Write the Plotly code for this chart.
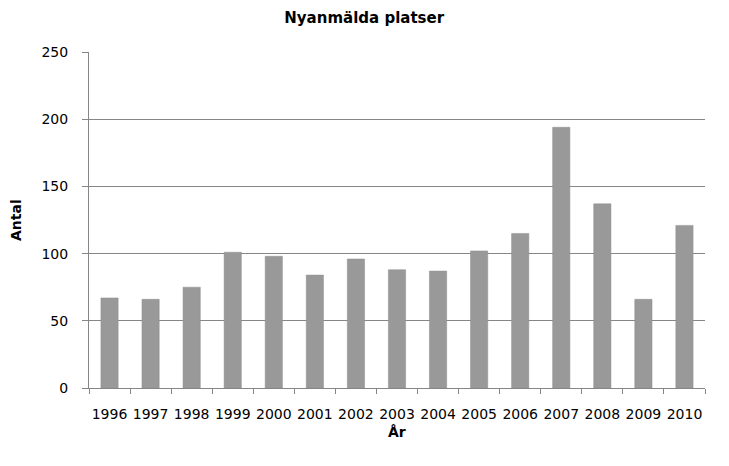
import plotly.graph_objects as go

# Nyanmälda platser per år
years = ["1996", "1997", "1998", "1999", "2000", "2001", "2002", "2003",
         "2004", "2005", "2006", "2007", "2008", "2009", "2010"]
antal = [67, 66, 75, 101, 98, 84, 96, 88, 87, 102, 115, 194, 137, 66, 121]

FONT = "DejaVu Sans"
GRID = "#868686"

fig = go.Figure(
    go.Bar(
        x=years,
        y=antal,
        marker=dict(color="#999999", line=dict(color="#8e8e8e", width=0.5)),
        width=0.42,
    )
)

# sidan har 8 px marginal runt figuren
fig.update_layout(
    width=721,
    height=458,
    title=dict(
        text="<b>Nyanmälda platser</b>",
        x=0.494,
        xanchor="center",
        y=1 - 10 / 458,
        yanchor="middle",
        font=dict(family=FONT, size=15, color="#000000"),
    ),
    plot_bgcolor="#ffffff",
    paper_bgcolor="#ffffff",
    font=dict(family=FONT, size=14, color="#000000"),
    showlegend=False,
    margin=dict(t=44, b=78, l=81, r=24),
)

fig.update_yaxes(
    range=[0, 250],
    tickvals=[0, 50, 100, 150, 200, 250],
    showgrid=True,
    gridcolor=GRID,
    gridwidth=1,
    showline=True,
    linecolor=GRID,
    ticks="outside",
    ticklen=6,
    tickcolor=GRID,
    ticklabelstandoff=11,
    zeroline=False,
    automargin=False,
)

fig.update_xaxes(
    showline=True,
    linecolor=GRID,
    ticks="outside",
    tickson="boundaries",
    ticklen=5,
    tickcolor=GRID,
    tickangle=0,
    ticklabelstandoff=13,
    showgrid=False,
    automargin=False,
)

fig.add_annotation(
    text="<b>Antal</b>", xref="paper", yref="paper", x=0, y=0.5,
    xshift=-73, xanchor="center", yanchor="middle", textangle=-90,
    showarrow=False, font=dict(family=FONT, size=14),
)
fig.add_annotation(
    text="<b>År</b>", xref="paper", yref="paper", x=0.5, y=0,
    yshift=-44, xanchor="center", yanchor="middle", showarrow=False,
    font=dict(family=FONT, size=14),
)

fig.write_html("out.html")
